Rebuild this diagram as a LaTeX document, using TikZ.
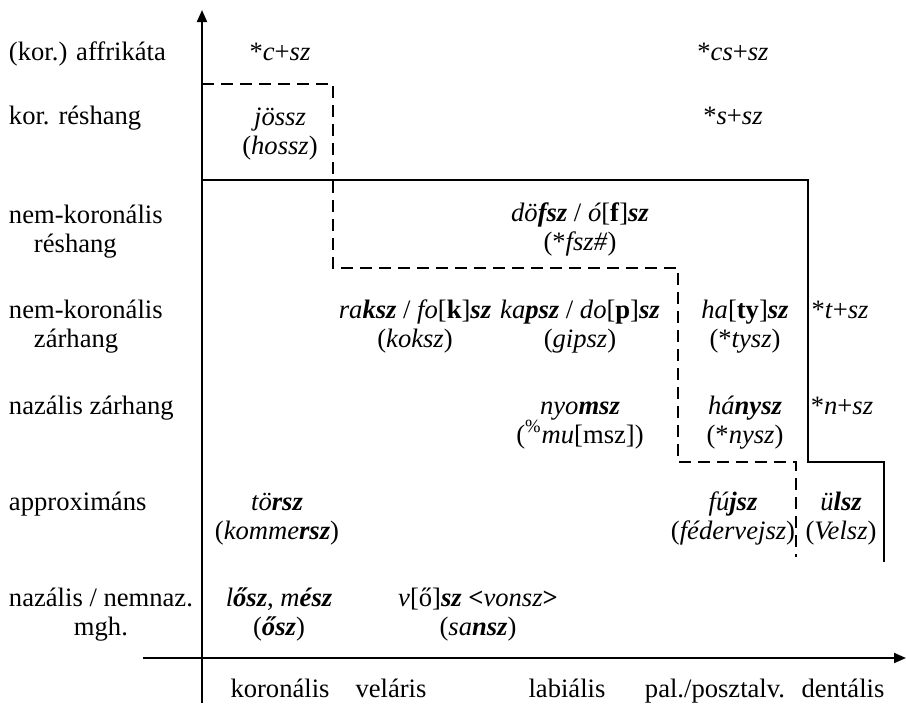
\documentclass[tikz,border=0pt]{standalone}
\usepackage{fontspec}
\setmainfont{Liberation Serif}
\usepackage{tikz}
\usetikzlibrary{arrows.meta}
\newcommand{\kiem}[1]{\textbf{\textit{#1}}}

\begin{document}
\begin{tikzpicture}[x = 0.5pt, y = -0.5pt, line width = 1pt,
  every node/.style = {font = \fontsize{13.3}{14.5}\selectfont, inner sep = 0pt, anchor = base},
  cell/.style = {align = center},
  sor/.style = {anchor = base west, align = left},
  hatar/.style = {dash pattern = on 6pt off 3.5pt}]
\useasboundingbox (0,0) rectangle (906,703);
% tengelyek
\draw [-{Triangle[length = 6pt, width = 5pt]}] (202,703) -- (202,10);
\draw [-{Triangle[length = 6pt, width = 5pt]}] (143,658) -- (906,658);
% hatarvonalak
\draw (202,180) -- (808,180) -- (808,462) -- (884,462) -- (884,562);
\draw [hatar] (202,84) -- (333,84) -- (333,268) -- (678,268) -- (678,462) -- (796,462) -- (796,557);
% sorok (ket sorosnal az also sor alapvonala)
\path (8,60) node[sor](s1){(kor.) affrikáta}
    (8,124) node[sor](s2){kor. réshang}
    (8,252) node[sor](s3){nem-koronális\\\hspace*{12.5pt}réshang}
    (8,347) node[sor](s4){nem-koronális\\\hspace*{12.5pt}zárhang}
    (8,414) node[sor](s5){nazális zárhang}
    (8,510) node[sor](s6){approximáns}
    (8,635) node[sor, align = center](s7){nazális / nemnaz.\\mgh.};
% oszlopok
\path (280,697) node(o1){koronális}
    (391,697) node(o2){veláris}
    (567,697) node(o3){labiális}
    (715,697) node(o4){pal./posztalv.}
    (843,697) node(o5){dentális};
% cellak
\path (280,60) node[cell](c1){*\textit{c}+\textit{sz}}
    (733,60) node[cell](c2){*\textit{cs}+\textit{sz}}
    (280,154) node[cell](c3){\textit{jössz}\\(\textit{hossz})}
    (733,124) node[cell](c4){*\textit{s}+\textit{sz}}
    (580,250) node[cell](c5){\textit{dö\kiem{fsz}} / \textit{ó}[\textbf{f}]\kiem{sz}\\(*\textit{fsz\#})}
    (415,347) node[cell](c6){\textit{ra\kiem{ksz}} / \textit{fo}[\textbf{k}]\kiem{sz}\\(\textit{koksz})}
    (580,347) node[cell](c7){\textit{ka\kiem{psz}} / \textit{do}[\textbf{p}]\kiem{sz}\\(\textit{gipsz})}
    (745,347) node[cell](c8){\textit{ha}[\textbf{ty}]\kiem{sz}\\(*\textit{tysz})}
    (840,318) node[cell](c9){*\textit{t}+\textit{sz}}
    (580,443) node[cell](c10){\textit{nyo\kiem{msz}}\\(\textsuperscript{\%}\textit{mu}[msz])}
    (745,443) node[cell](c11){\textit{há\kiem{nysz}}\\(*\textit{nysz})}
    (842,414) node[cell](c12){*\textit{n}+\textit{sz}}
    (277,539) node[cell](c13){\textit{tö\kiem{rsz}}\\(\textit{komme\kiem{rsz}})}
    (733,539) node[cell](c14){\textit{fú\kiem{jsz}}\\(\textit{fédervejsz})}
    (841,539) node[cell](c15){\textit{ü\kiem{lsz}}\\(\textit{Velsz})}
    (279,635) node[cell](c16){\textit{l\kiem{ősz}}, \textit{m\kiem{ész}}\\(\kiem{ősz})}
    (478,635) node[cell](c17){\textit{v}[ő]\kiem{sz} \textbf{<}\textit{vonsz}\textbf{>}\\(\textit{sa\kiem{nsz}})};
\end{tikzpicture}
\end{document}
